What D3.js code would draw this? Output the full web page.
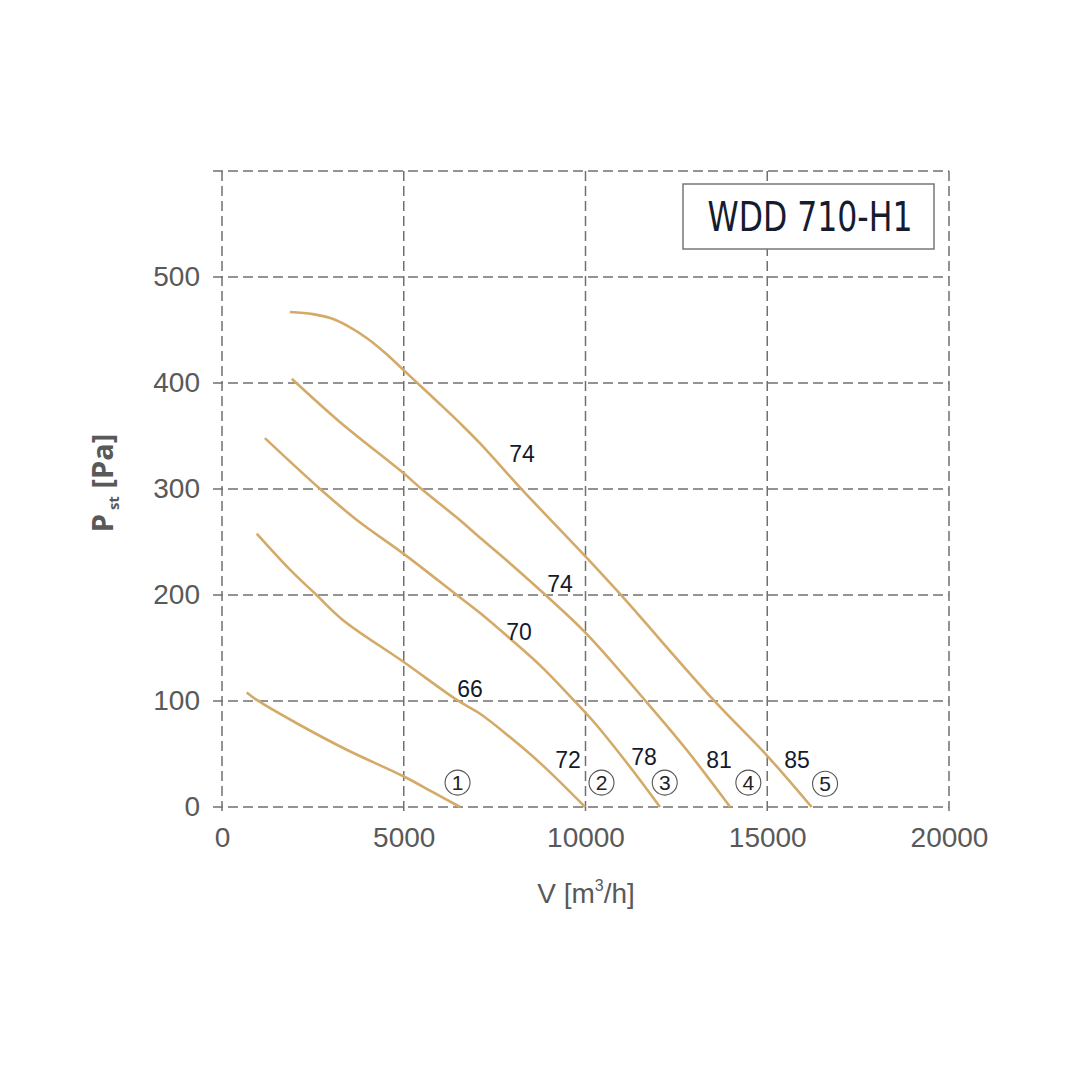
<!DOCTYPE html>
<html><head><meta charset="utf-8">
<script src="https://cdn.jsdelivr.net/npm/d3@7"></script>
<style>html,body{margin:0;padding:0;background:#fff;}</style>
</head><body>
<svg id="c" width="1080" height="1080"></svg>
<script>
// ---- data ----
const xTicks = [0, 5000, 10000, 15000, 20000];
const yTicks = [0, 100, 200, 300, 400, 500];
const curve1 = [[680,108],[955,101],[2055,79],[3430,54],[4990,29],[5800,14],[6550,0]];
const curve2 = [[955,258],[1870,224],[2600,200],[3340,176],[4990,137],[6460,101],[7100,88],[7920,66],[8800,40],[9990,0]];
const curve3 = [[1180,348],[2700,300],[3700,271],[4990,239],[6460,200],[7100,183],[7920,159],[8800,132],[9670,101],[10260,79],[11220,38],[12050,0]];
const curve4 = [[1920,404],[3250,363],[4990,315],[5490,300],[6460,273],[7100,254],[7920,230],[8930,199],[10010,164],[11680,99],[12780,54],[13980,0]];
const curve5 = [[1870,467],[2500,465],[3000,461],[3500,453],[4000,442],[4500,428],[5000,412],[5500,396],[6000,380],[6640,359],[7100,343],[7920,312],[8290,298],[10010,236],[10950,201],[13520,101],[14980,49],[16220,0]];
const curves = [curve1, curve2, curve3, curve4, curve5];
const speedLabels = ["74","74","70","66","72","78","81","85"];
const speedLabelPos = [[8253,333],[9299,210],[8171,165],[6823,111],[9519,44],[11609,47],[13673,44],[15818,44]];
const curveNumbers = ["1","2","3","4","5"];
const curveNumberPos = [[6480,23],[10440,23],[12180,23],[14480,23],[16590,22]];
const title = "WDD 710-H1";

// ---- layout ----
const svg = d3.select("#c");
const x = d3.scaleLinear().domain([0, 20000]).range([222, 949]);
const y = d3.scaleLinear().domain([0, 600]).range([807, 171]);
const gridColor = "#707070";
const dash = "10,5";
const sans = "Liberation Sans, Arial, sans-serif";

// grid
const g = svg.append("g");
g.selectAll("line.v").data(xTicks).join("line")
  .attr("x1", d => x(d)).attr("x2", d => x(d))
  .attr("y1", y(600)).attr("y2", y(0) + 8)
  .attr("stroke", gridColor).attr("stroke-width", 1.5).attr("stroke-dasharray", dash);
g.selectAll("line.h").data(yTicks.concat([600])).join("line")
  .attr("x1", x(0) - 9).attr("x2", x(20000))
  .attr("y1", d => y(d)).attr("y2", d => y(d))
  .attr("stroke", gridColor).attr("stroke-width", 1.5).attr("stroke-dasharray", dash);

// axes labels via d3 axes (no domain path)
const yAxis = d3.axisLeft(y).tickValues(yTicks).tickSize(0).tickPadding(22);
const ya = svg.append("g").attr("transform", `translate(${x(0)},0)`).call(yAxis);
ya.select(".domain").remove();
ya.selectAll("text").attr("font-family", sans).attr("font-size", 28).attr("fill", "#595959");

const xAxis = d3.axisBottom(x).tickValues(xTicks).tickSize(0).tickPadding(20).tickFormat(d3.format("d"));
const xa = svg.append("g").attr("transform", `translate(0,${y(0)})`).call(xAxis);
xa.select(".domain").remove();
xa.selectAll("text").attr("font-family", sans).attr("font-size", 28).attr("fill", "#595959");

// curves
const line = d3.line().x(d => x(d[0])).y(d => y(d[1])).curve(d3.curveCatmullRom.alpha(0.5));
svg.append("g").selectAll("path").data(curves).join("path")
  .attr("d", line).attr("fill", "none").attr("stroke", "#D4AA68").attr("stroke-width", 2.6);

// speed labels
svg.append("g").selectAll("text").data(speedLabels).join("text")
  .attr("x", (d, i) => x(speedLabelPos[i][0]))
  .attr("y", (d, i) => y(speedLabelPos[i][1]) + 8)
  .attr("text-anchor", "middle")
  .attr("font-family", sans).attr("font-size", 23).attr("fill", "#141a2a")
  .text(d => d);

// circled curve numbers
const cn = svg.append("g").selectAll("g").data(curveNumbers).join("g")
  .attr("transform", (d, i) => `translate(${x(curveNumberPos[i][0])},${y(curveNumberPos[i][1])})`);
cn.append("circle").attr("r", 12.5).attr("fill", "none").attr("stroke", "#555").attr("stroke-width", 1.1);
cn.append("text").attr("text-anchor", "middle").attr("y", 7.5)
  .attr("font-family", sans).attr("font-size", 21).attr("fill", "#222")
  .text(d => d);

// title box
svg.append("rect").attr("x", 683).attr("y", 184).attr("width", 251).attr("height", 65)
  .attr("fill", "#fff").attr("stroke", "#777").attr("stroke-width", 1.5);
svg.append("text").attr("x", 810).attr("y", 231).attr("text-anchor", "middle")
  .attr("font-family", "DejaVu Sans Condensed, DejaVu Sans, sans-serif").attr("font-size", 40)
  .attr("textLength", 205).attr("lengthAdjust", "spacingAndGlyphs")
  .attr("fill", "#161c30").text(title);

// x title
const xt = svg.append("text").attr("x", 586).attr("y", 903).attr("text-anchor", "middle")
  .attr("font-family", sans).attr("font-size", 28).attr("fill", "#595959");
xt.append("tspan").text("V [m");
xt.append("tspan").attr("font-size", 16).attr("dy", -12).text("3");
xt.append("tspan").attr("dy", 12).text("/h]");

// y title
const yt = svg.append("text").attr("transform", "translate(113,483) rotate(-90)").attr("text-anchor", "middle")
  .attr("font-family", "Open Sans, sans-serif").attr("font-weight", 700).attr("font-size", 29).attr("fill", "#595959");
yt.append("tspan").text("P");
yt.append("tspan").attr("font-size", 15).attr("dy", 6).attr("dx", 4).text("st");
yt.append("tspan").attr("dy", -6).text(" [Pa]");
</script>
</body></html>
